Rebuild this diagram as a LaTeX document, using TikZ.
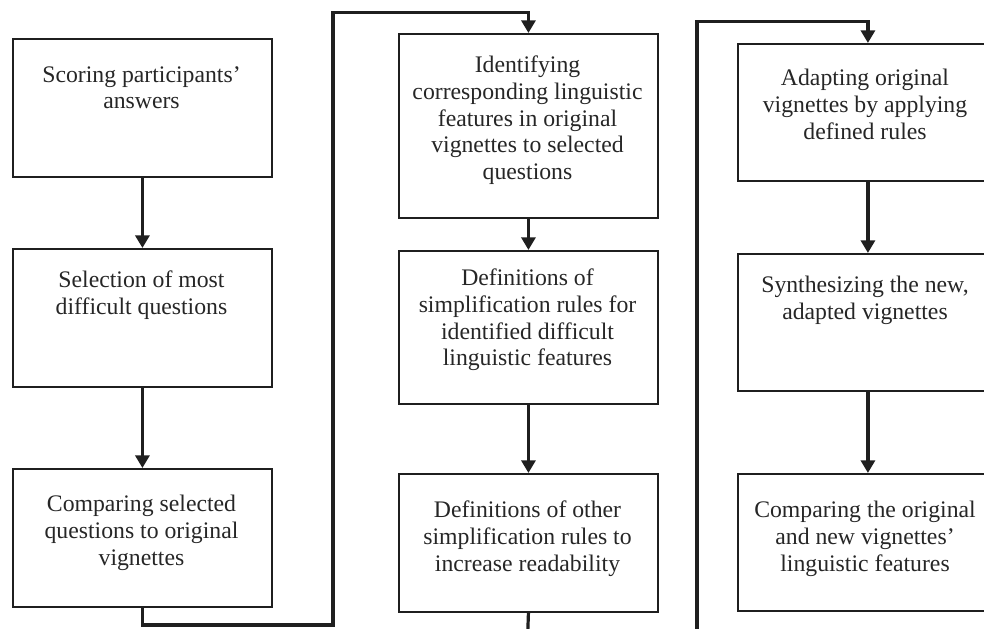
\documentclass[tikz,border=0pt]{standalone}
\usepackage{fontspec}
\setmainfont{Liberation Serif}
\usetikzlibrary{arrows.meta}
\begin{document}
\begin{tikzpicture}[x=0.75pt,y=-0.75pt,
  stepbox/.style={draw=black!88, line width=1.4pt, rectangle, inner sep=0pt,
    anchor=north west, minimum width=194.25pt},
  steptext/.style={anchor=north, align=center, inner sep=0pt, text=black!85,
    font=\fontsize{17.8pt}{20pt}\selectfont},
  flow/.style={line width=2.4pt, draw=black!88},
  arr/.style={flow, -{Triangle[width=10.5pt,length=9.5pt]}}]
\useasboundingbox (0,0) rectangle (984,628);
\clip (0,0) rectangle (984,628);

% first column
\node[stepbox, minimum height=103.5pt] (b1) at (12,38) {};
\node[stepbox, minimum height=103.5pt] (b2) at (12,248) {};
\node[stepbox, minimum height=103.5pt] (b3) at (12,468) {};
\node[steptext] (t1) at (141.5,66) {Scoring participants'\\answers};
\node[steptext] (t2) at (141.5,271) {Selection of most\\difficult questions};
\node[steptext] (t3) at (141.5,495) {Comparing selected\\questions to original\\vignettes};

% second column
\node[stepbox, minimum height=138pt] (b4) at (398,33) {};
\node[stepbox, minimum height=114.75pt] (b5) at (398,250) {};
\node[stepbox, minimum height=103.5pt] (b6) at (398,473) {};
\node[steptext] (t4) at (527.5,56) {Identifying\\corresponding linguistic\\features in original\\vignettes to selected\\questions};
\node[steptext] (t5) at (527.5,269) {Definitions of\\simplification rules for\\identified difficult\\linguistic features};
\node[steptext] (t6) at (527.5,501) {Definitions of other\\simplification rules to\\increase readability};

% third column (boxes run past the right edge)
\node[stepbox, minimum width=195pt, minimum height=102.75pt] (b7) at (737,43) {};
\node[stepbox, minimum width=195pt, minimum height=102.75pt] (b8) at (737,253) {};
\node[stepbox, minimum width=195pt, minimum height=102.75pt] (b9) at (737,473) {};
\node[steptext] (t7) at (865,69) {Adapting original\\vignettes by applying\\defined rules};
\node[steptext] (t8) at (865,276) {Synthesizing the new,\\adapted vignettes};
\node[steptext] (t9) at (865,501) {Comparing the original\\and new vignettes'\\linguistic features};

% routing points of the column-to-column connectors
\coordinate (loopA) at (333,625);
\coordinate (loopB) at (333,12.7);
\coordinate (exit2) at (527.5,640);
\coordinate (entry3) at (697,640);
\coordinate (loopC) at (697,21.7);

% connectors
\draw[arr] (b1.south) -- (b2.north);
\draw[arr] (b2.south) -- (b3.north);
\draw[arr] (b3.south) |- (loopA) -- (loopB) -| (b4.north);
\draw[arr] (b4.south) -- (b5.north);
\draw[arr] (b5.south) -- (b6.north);
\draw[flow] (b6.south) -- (exit2);
\draw[arr] (entry3) -- (loopC) -| (b7.north);
\draw[arr] (b7.south) -- (b8.north);
\draw[arr] (b8.south) -- (b9.north);
\end{tikzpicture}
\end{document}
